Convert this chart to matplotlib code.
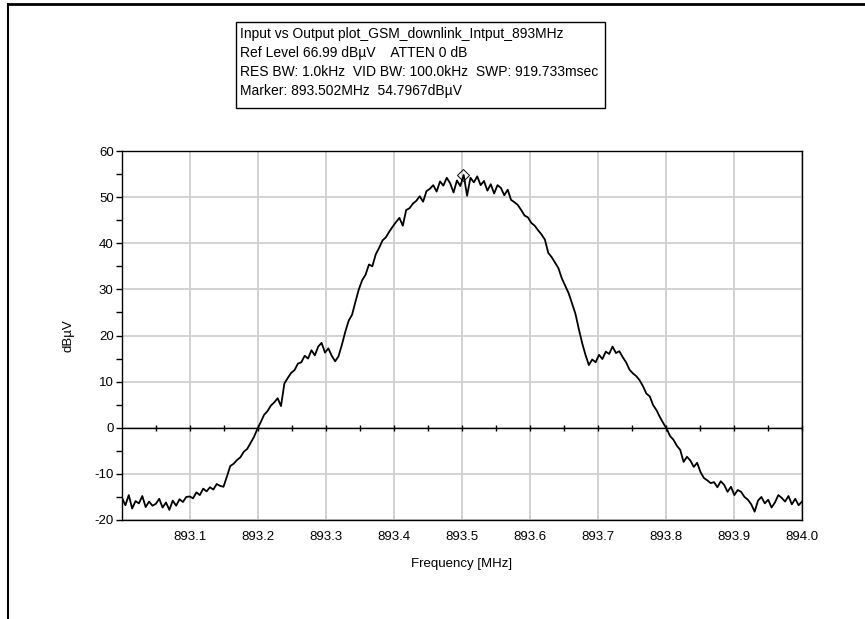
import matplotlib
matplotlib.use("Agg")
import matplotlib.pyplot as plt
from matplotlib.patches import Rectangle
from matplotlib.lines import Line2D
import numpy as np

plt.rcParams['font.family'] = ['Liberation Sans', 'DejaVu Sans']
plt.rcParams['axes.unicode_minus'] = False

# sweep settings
freq_start = 893.0
freq_stop = 894.0

# trace level in dBuV, one value every 5 kHz
level = [
    -15.2, -16.8, -14.6, -17.5, -15.9, -16.4, -14.8, -17.2, -16.0, -16.9,
    -16.5, -15.4, -17.3, -16.2, -17.8, -15.8, -16.9, -15.5, -16.1, -15.0,
    -14.9, -15.3, -14.0, -14.6, -13.2, -13.8, -12.9, -13.4, -12.2, -12.6,
    -12.8, -10.6, -8.3, -7.8, -7.0, -6.4, -5.2, -4.6, -3.3, -2.0,
    -0.3, 1.2, 2.8, 3.6, 4.8, 5.5, 6.4, 4.7, 9.6, 10.8, 11.9,
    12.5, 13.9, 14.2, 15.6, 15.0, 16.8, 15.7, 17.6, 18.4, 16.3,
    17.2, 15.6, 14.4, 15.5, 18.0, 20.8, 23.2, 24.5, 27.3, 30.0,
    32.0, 33.2, 35.4, 35.0, 37.6, 39.0, 40.6, 41.3, 42.5, 43.6,
    44.6, 45.5, 43.8, 47.2, 47.6, 48.6, 49.2, 50.2, 49.0, 51.3,
    51.8, 52.6, 51.2, 53.4, 52.5, 54.2, 53.0, 51.0, 53.6, 52.4,
    54.8, 50.3, 54.2, 53.2, 54.5, 52.6, 53.5, 51.4, 52.8, 50.8,
    52.6, 52.0, 50.4, 51.6, 49.4, 48.9, 48.3, 47.2, 46.0, 45.6,
    44.4, 43.8, 42.8, 41.9, 40.8, 37.9, 37.0, 35.8, 34.6, 32.4,
    30.8, 29.2, 27.0, 24.8, 21.5, 18.4, 15.8, 13.6, 14.8, 14.2,
    15.8, 14.9, 16.5, 16.0, 17.6, 16.2, 16.6, 15.3, 14.2, 12.6,
    11.8, 11.2, 10.3, 9.0, 7.4, 6.8, 4.9, 3.8, 2.3, 1.0,
    -0.2, -1.8, -2.6, -3.9, -4.8, -7.4, -6.3, -7.1, -8.5, -7.6,
    -9.6, -10.9, -11.4, -12.0, -11.8, -12.9, -11.6, -12.4, -13.9, -12.8,
    -14.6, -13.5, -13.9, -15.0, -15.6, -16.6, -18.2, -15.8, -15.0, -16.4,
    -15.6, -17.3, -16.2, -14.6, -15.2, -16.0, -14.8, -16.6, -15.4, -16.8,
    -16.0,
]
freq = np.linspace(freq_start, freq_stop, len(level))

marker_freq = 893.502
marker_level = 54.7967

info_lines = [
    "Input vs Output plot_GSM_downlink_Intput_893MHz",
    "Ref Level 66.99 dB\u00b5V    ATTEN 0 dB",
    "RES BW: 1.0kHz  VID BW: 100.0kHz  SWP: 919.733msec",
    "Marker: 893.502MHz  54.7967dB\u00b5V",
]

xticks = [893.1, 893.2, 893.3, 893.4, 893.5, 893.6, 893.7, 893.8, 893.9, 894.0]
yticks = [-20, -10, 0, 10, 20, 30, 40, 50, 60]

W, H = 865, 619
fig = plt.figure(figsize=(W / 100, H / 100), dpi=100)
ax = fig.add_axes([122 / W, (H - 520) / H, 680 / W, 369 / H])

ax.set_xlim(freq_start, freq_stop)
ax.set_ylim(-20, 60)
ax.set_xticks(xticks)
ax.set_xticklabels(['%.1f' % t for t in xticks])
ax.set_yticks(yticks)
ax.set_yticks([-15, -5, 5, 15, 25, 35, 45, 55], minor=True)
ax.tick_params(axis='x', length=0, pad=8, labelsize=9.5)
ax.tick_params(axis='y', which='both', length=4, width=1, direction='out', labelsize=9.5, pad=2)
ax.grid(True, color='#cfcfcf', lw=1.3)
ax.set_axisbelow(True)
for s in ax.spines.values():
    s.set_color('black')
    s.set_linewidth(1.0)

# zero line with its own ticks
ax.axhline(0, color='black', lw=1.0, zorder=2)
zt = np.arange(893.05, 894.001, 0.05)
ax.plot(zt, np.zeros_like(zt), '|', color='black', ms=4, mew=1.0, zorder=2, clip_on=False)

ax.plot(freq, level, color='black', lw=1.3, zorder=3)
ax.plot([marker_freq], [marker_level], 'D', ms=6, mfc='none', mec='black', mew=0.7, zorder=4)

ax.set_xlabel("Frequency [MHz]", fontsize=9.5, labelpad=11)
ax.set_ylabel("dB\u00b5V", fontsize=9.5, labelpad=14)

# info box
fig.add_artist(Rectangle((236 / W, 1 - 108 / H), (605 - 236) / W, 86 / H,
                         transform=fig.transFigure, fill=False, ec='black', lw=1.0))
for i, s in enumerate(info_lines):
    fig.text(240 / W, 1 - (34 + 19 * i) / H, s, fontsize=10, va='center', ha='left')

# window border
fig.add_artist(Line2D([8 / W, 1], [1 - 4 / H, 1 - 4 / H], transform=fig.transFigure, color='black', lw=2))
fig.add_artist(Line2D([8 / W, 8 / W], [0, 1 - 4 / H], transform=fig.transFigure, color='black', lw=1.5))

fig.savefig("out.png", dpi=100)
